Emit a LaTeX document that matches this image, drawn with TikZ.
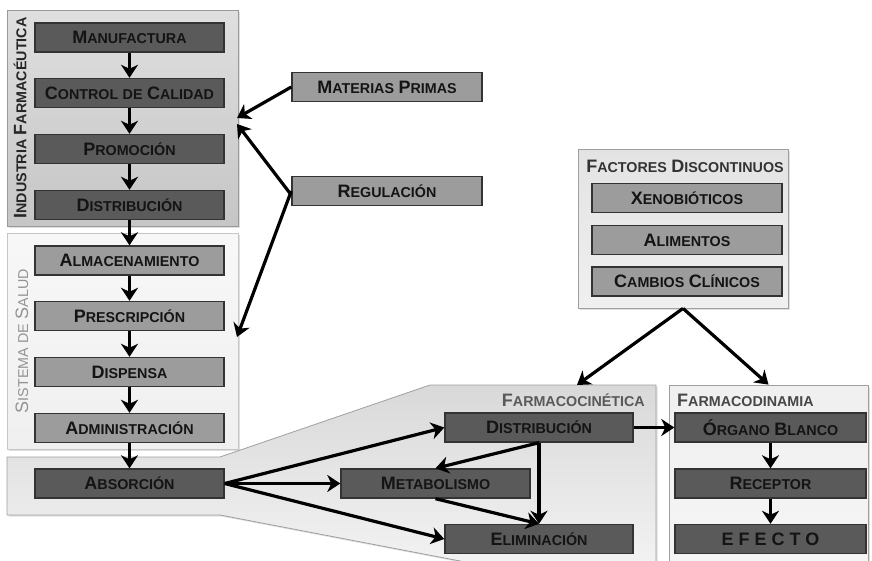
\documentclass[tikz,border=0pt]{standalone}
\usepackage{fontspec}
\setmainfont{Liberation Sans}
\usetikzlibrary{arrows.meta,shadows}
\definecolor{dkfill}{HTML}{5A5A5A}
\definecolor{mdfill}{HTML}{9C9C9C}
\definecolor{boxline}{HTML}{333333}
\definecolor{txt}{HTML}{141414}
\newcommand\Smc[2]{{\fontsize{18}{19}\selectfont #1}{\fontsize{14.3}{15}\selectfont #2}}
\newcommand\Sml[1]{{\fontsize{14.3}{15}\selectfont #1}}
\tikzset{
  basebox/.style={draw=boxline, line width=1.4pt, minimum width=189pt, minimum height=29pt,
    inner sep=0pt, font=\fontsize{16}{17}\selectfont\bfseries, text=txt},
  darkbox/.style={basebox, fill=dkfill},
  midbox/.style={basebox, fill=mdfill},
  panel/.style={draw=#1, line width=0.8pt, inner sep=0pt,
    drop shadow={shadow xshift=1.5pt, shadow yshift=-1.5pt, opacity=0.25}},
  flow/.style={line width=3.2pt, -{Stealth[length=13pt, width=17pt, inset=4pt]}},
  lbl/.style={inner sep=0pt},
}
\begin{document}
\begin{tikzpicture}[x=1pt,y=-1pt]
\useasboundingbox (0,0) rectangle (872,560);
% panels
\node[panel=gray!80, top color=gray!25, bottom color=gray!45, minimum width=231pt, minimum height=216pt] (ind) at (122.5,118) {};
\node[panel=gray!45, top color=white!97!black, bottom color=gray!12, minimum width=231pt, minimum height=216pt] (sis) at (122.5,341) {};
\node[panel=gray!75, top color=gray!22, bottom color=gray!12, minimum width=210pt, minimum height=159pt] (fac) at (683,228.5) {};
\node[panel=gray!75, top color=gray!12, bottom color=gray!8, minimum width=199pt, minimum height=178pt] (fd) at (768.5,474) {};
\path[draw=gray!75, line width=0.8pt, top color=gray!30, bottom color=gray!10,
  drop shadow={shadow xshift=1.5pt, shadow yshift=-1.5pt, opacity=0.25}]
  (7,457) -- (220,457) -- (430,385) -- (656,385) -- (656,565) -- (481,565) -- (220,515) -- (7,515) -- cycle;
% panel labels
\node[lbl, rotate=90, text=black!85, font=\fontsize{16}{17}\selectfont\bfseries] (indl) at (20,118) {\Smc{I}{NDUSTRIA} \Smc{F}{ARMACÉUTICA}};
\node[lbl, rotate=90, text=gray!85, font=\fontsize{16}{17}\selectfont] (sisl) at (22,341) {\Smc{S}{ISTEMA} \Sml{DE} \Smc{S}{ALUD}};
\node[lbl, text=black!80, font=\fontsize{16}{17}\selectfont\bfseries] (facl) at (685,166) {\Smc{F}{ACTORES} \Smc{D}{ISCONTINUOS}};
\node[lbl, anchor=east, text=black!65, font=\bfseries] (fkl) at (645,400) {\Smc{F}{ARMACOCINÉTICA}};
\node[lbl, anchor=west, text=black!72, font=\bfseries] (fdl) at (677,400) {\Smc{F}{ARMACODINAMIA}};
% Industria
\node[darkbox] (man) at (129.5,37.5) {\Smc{M}{ANUFACTURA}};
\node[darkbox] (cc) at (129.5,93) {\Smc{C}{ONTROL} \Sml{DE} \Smc{C}{ALIDAD}};
\node[darkbox] (pro) at (129.5,149) {\Smc{P}{ROMOCIÓN}};
\node[darkbox] (dis) at (129.5,205) {\Smc{D}{ISTRIBUCIÓN}};
% Sistema
\node[midbox] (alm) at (129.5,260.5) {\Smc{A}{LMACENAMIENTO}};
\node[midbox] (pre) at (129.5,316) {\Smc{P}{RESCRIPCIÓN}};
\node[midbox] (dsp) at (129.5,372) {\Smc{D}{ISPENSA}};
\node[midbox] (adm) at (129.5,428) {\Smc{A}{DMINISTRACIÓN}};
% external
\node[midbox, minimum width=190pt] (mp) at (387,87) {\Smc{M}{ATERIAS} \Smc{P}{RIMAS}};
\node[midbox, minimum width=190pt] (reg) at (387,191) {\Smc{R}{EGULACIÓN}};
% Factores
\node[midbox, minimum width=190pt] (xen) at (687,198) {\Smc{X}{ENOBIÓTICOS}};
\node[midbox, minimum width=190pt] (ali) at (687,240) {\Smc{A}{LIMENTOS}};
\node[midbox, minimum width=190pt] (cam) at (687,281.5) {\Smc{C}{AMBIOS} \Smc{C}{LÍNICOS}};
% Farmacocinetica
\node[darkbox] (abs) at (129.5,483.5) {\Smc{A}{BSORCIÓN}};
\node[darkbox] (met) at (435.5,483.5) {\Smc{M}{ETABOLISMO}};
\node[darkbox, minimum width=188pt] (dfk) at (539,427.5) {\Smc{D}{ISTRIBUCIÓN}};
\node[darkbox, minimum width=188pt] (eli) at (539,539) {\Smc{E}{LIMINACIÓN}};
% Farmacodinamia
\node[darkbox, minimum width=191pt] (org) at (770.5,427.5) {\Smc{Ó}{RGANO} \Smc{B}{LANCO}};
\node[darkbox, minimum width=191pt] (rec) at (770.5,483.5) {\Smc{R}{ECEPTOR}};
\node[darkbox, minimum width=191pt] (efe) at (770.5,539) {{\fontsize{18}{19}\selectfont E\hspace{5pt}F\hspace{5pt}E\hspace{5pt}C\hspace{5pt}T\hspace{5pt}O}};
% target coordinates
\coordinate (t1) at (237,118);
\coordinate (t2) at (237,124);
\coordinate (t3) at (237,337);
\coordinate (fkt) at (577,385);
% arrows
\draw[flow] (man) -- (cc);
\draw[flow] (cc) -- (pro);
\draw[flow] (pro) -- (dis);
\draw[flow] (dis) -- (alm);
\draw[flow] (alm) -- (pre);
\draw[flow] (pre) -- (dsp);
\draw[flow] (dsp) -- (adm);
\draw[flow] (adm) -- (abs);
\draw[flow] (mp.west) -- (t1);
\draw[flow] ([yshift=-4pt]reg.west) -- (t2);
\draw[flow] (reg.west) -- (t3);
\draw[flow] (fac.south) -- (fkt);
\draw[flow] (fac.south) -- (fd.north);
\draw[flow] (abs.east) -- (dfk.west);
\draw[flow] (abs.east) -- (met.west);
\draw[flow] (abs.east) -- (eli.west);
\draw[flow] (dfk.south) -- (met.north);
\draw[flow] (dfk.south) -- (eli.north);
\draw[flow] (met.south) -- (eli.north);
\draw[flow] (dfk.east) -- (org.west);
\draw[flow] (org) -- (rec);
\draw[flow] (rec) -- (efe);
\end{tikzpicture}
\end{document}
